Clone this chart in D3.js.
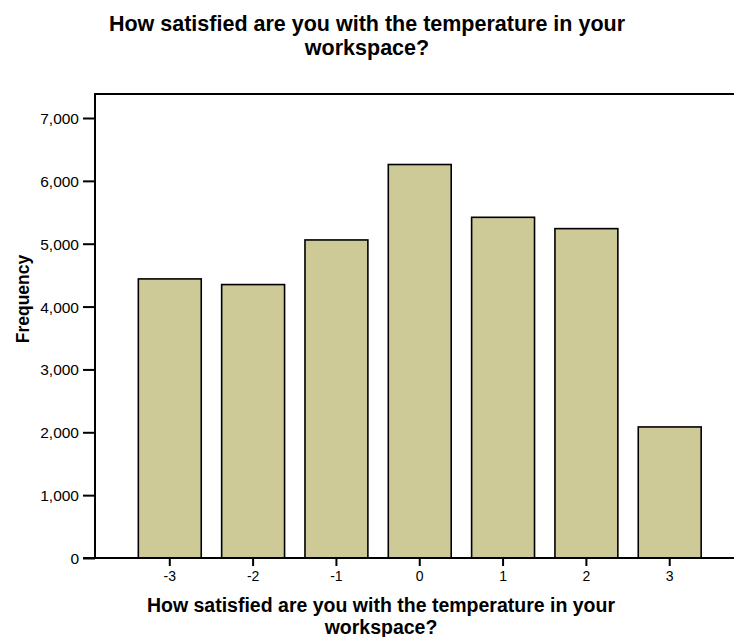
<!DOCTYPE html>
<html>
<head>
<meta charset="utf-8">
<script src="https://cdn.jsdelivr.net/npm/d3@7"></script>
<style>
  body { margin: 0; background: #fff; }
  text { font-family: "Liberation Sans", Arial, sans-serif; fill: #000; }
</style>
</head>
<body>
<div id="chart"></div>
<script>
// Answer categories and how often each was given.
var categories = ["-3", "-2", "-1", "0", "1", "2", "3"];
var frequencies = [4440, 4350, 5060, 6260, 5420, 5240, 2085];
var yTicks = [0, 1000, 2000, 3000, 4000, 5000, 6000, 7000];

var width = 734;
var height = 637;

// Plot frame.
var frameLeft = 95;
var frameTop = 94;
var frameBottom = 558;
var frameRight = 734;

var svg = d3.select("#chart").append("svg")
  .attr("width", width)
  .attr("height", height);

var xScale = d3.scaleBand()
  .domain(categories)
  .range([127.5, 712])
  .paddingInner(0.245)
  .paddingOuter(0.13);

var yScale = d3.scaleLinear().domain([0, 7000]).range([frameBottom, 118]);

// Frame top and left.
svg.append("path")
  .attr("d", "M" + frameLeft + "," + frameBottom + "V" + frameTop + "H" + frameRight)
  .attr("fill", "none")
  .attr("stroke", "#000")
  .attr("stroke-width", 2);

// Bars.
svg.append("g")
  .selectAll("rect")
  .data(frequencies)
  .enter().append("rect")
  .attr("x", function(d, i) { return xScale(categories[i]); })
  .attr("y", function(d) { return yScale(d); })
  .attr("width", xScale.bandwidth())
  .attr("height", function(d) { return frameBottom - yScale(d); })
  .attr("fill", "#cdca97")
  .attr("stroke", "#000")
  .attr("stroke-width", 1.6);

// y axis.
var yAxis = d3.axisLeft(yScale)
  .tickValues(yTicks)
  .tickSize(12)
  .tickPadding(4)
  .tickFormat(d3.format(","));

var ya = svg.append("g")
  .attr("transform", "translate(" + frameLeft + ",0)")
  .call(yAxis);
ya.select(".domain").remove();
ya.selectAll("line").attr("stroke-width", 2);
ya.selectAll("text").style("font-size", "15.5px").attr("dy", "0.35em");

// x axis.
var xAxis = d3.axisBottom(xScale).tickSize(8).tickPadding(5);
var xa = svg.append("g")
  .attr("transform", "translate(0," + frameBottom + ")")
  .call(xAxis);
xa.select(".domain").remove();
xa.selectAll("line").attr("stroke-width", 2);
xa.selectAll("text").style("font-size", "14px");

svg.append("line")
  .attr("x1", frameLeft - 12).attr("x2", frameRight)
  .attr("y1", frameBottom).attr("y2", frameBottom)
  .attr("stroke", "#000")
  .attr("stroke-width", 2);

// Title.
var title = svg.append("text")
  .attr("text-anchor", "middle")
  .style("font-size", "21.5px")
  .style("font-weight", "bold");
title.append("tspan").attr("x", 367).attr("y", 31)
  .text("How satisfied are you with the temperature in your");
title.append("tspan").attr("x", 367).attr("y", 55)
  .text("workspace?");

// x label.
var xlabel = svg.append("text")
  .attr("text-anchor", "middle")
  .style("font-size", "19.5px")
  .style("font-weight", "bold");
xlabel.append("tspan").attr("x", 381).attr("y", 612)
  .text("How satisfied are you with the temperature in your");
xlabel.append("tspan").attr("x", 381).attr("y", 634)
  .text("workspace?");

// y label.
svg.append("text")
  .attr("text-anchor", "middle")
  .attr("transform", "translate(29,299) rotate(-90)")
  .style("font-size", "17.5px")
  .style("font-weight", "bold")
  .text("Frequency");
</script>
</body>
</html>
